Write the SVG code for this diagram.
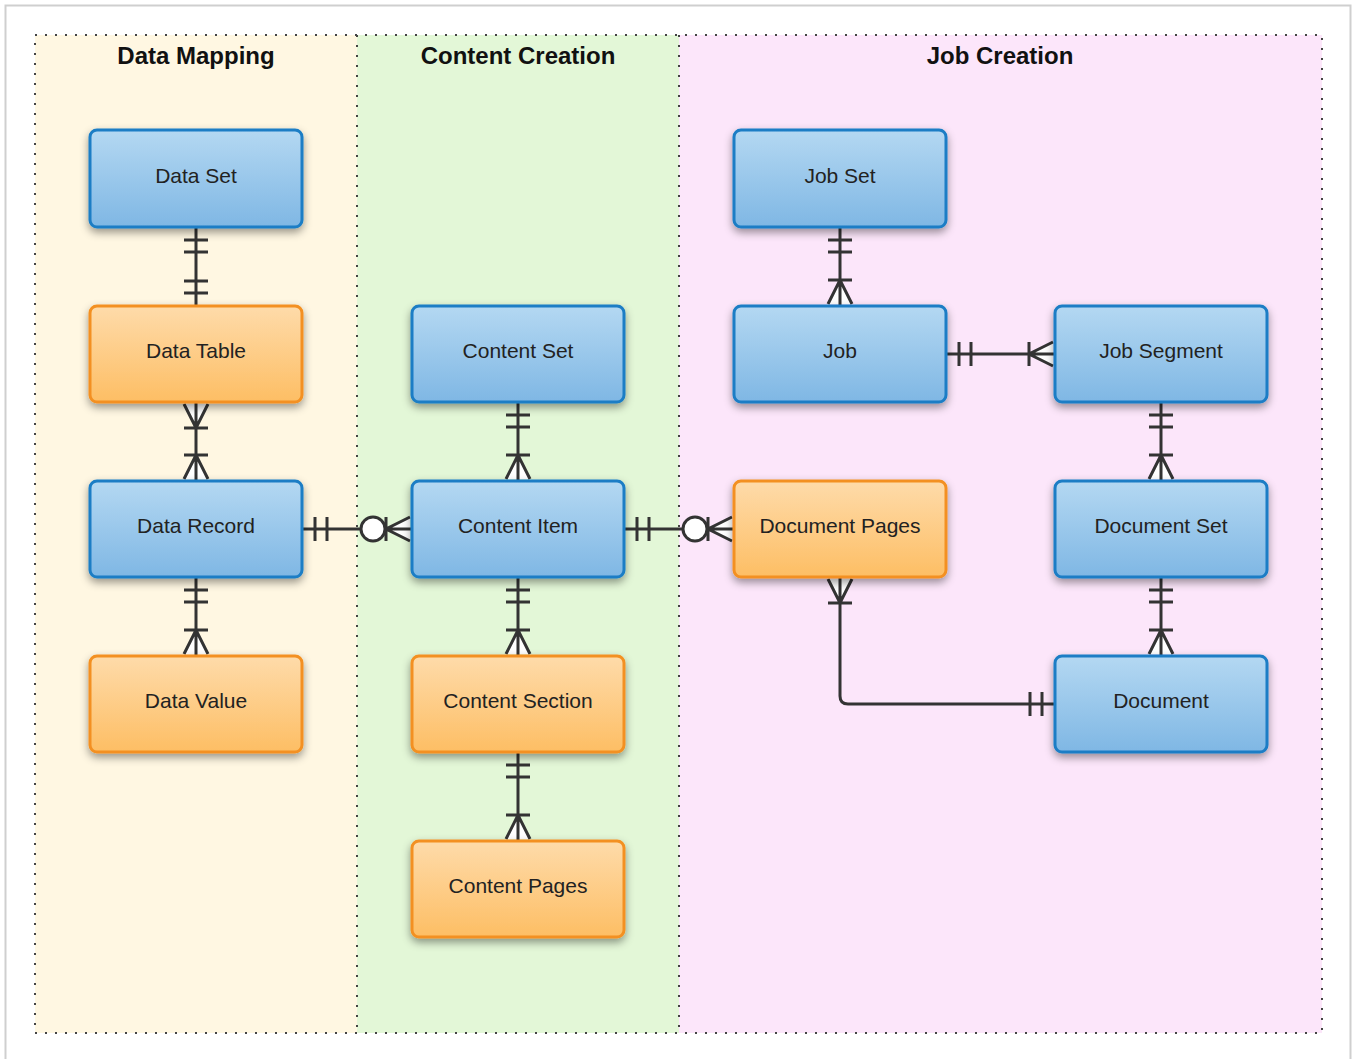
<svg xmlns="http://www.w3.org/2000/svg" xmlns:xlink="http://www.w3.org/1999/xlink" width="1354" height="1059" viewBox="0 0 1354 1059">
<style>
.title{font-family:"Liberation Sans",Arial,sans-serif;font-weight:bold;font-size:24px;fill:#111;text-anchor:middle}
.lbl{font-family:"Liberation Sans",Arial,sans-serif;font-size:21px;fill:#222;text-anchor:middle}
.blue{fill:url(#gBlue);stroke:#1a7dc5;stroke-width:3}
.orange{fill:url(#gOrange);stroke:#f39020;stroke-width:3}
.ln{fill:none;stroke:#333;stroke-width:3}
.lane{stroke:none}
.dot{fill:none;stroke:#444;stroke-width:2;stroke-dasharray:2 8}
</style>
<defs>
<linearGradient id="gBlue" x1="0" y1="0" x2="0" y2="1">
<stop offset="0" stop-color="#b4d8f2"/><stop offset="1" stop-color="#7fb7e4"/>
</linearGradient>
<linearGradient id="gOrange" x1="0" y1="0" x2="0" y2="1">
<stop offset="0" stop-color="#fedbaa"/><stop offset="1" stop-color="#fdbe64"/>
</linearGradient>
<filter id="sh" x="-10%" y="-10%" width="120%" height="135%">
<feDropShadow dx="0" dy="4" stdDeviation="4" flood-color="#000" flood-opacity="0.4"/>
</filter>
<g id="bars2">
<path class="ln" d="M-12,13 H12 M-12,25 H12"/>
</g>
<g id="crow">
<path d="M-12,2 L12,2 L0,26 Z" fill="#fff" stroke="none"/>
<path class="ln" d="M-12,2 L0,26 L12,2 M0,2 V26 M-12,26 H12"/>
</g>
</defs>

<rect x="0" y="0" width="1354" height="1059" fill="#fff"/>
<rect x="5.5" y="5.5" width="1345" height="1100" fill="#fff" stroke="#cfcfcf" stroke-width="2"/>

<g id="lanes">
<rect class="lane" x="35" y="35" width="322" height="998" fill="#fff7e2"/>
<rect class="lane" x="357" y="35" width="322" height="998" fill="#e3f7d7"/>
<rect class="lane" x="679" y="35" width="643" height="998" fill="#fce6fa"/>
<path class="dot" d="M35,35 H1322 V1033 H35 Z M357,35 V1033 M679,35 V1033"/>
<text class="title" x="196" y="64">Data Mapping</text>
<text class="title" x="518" y="64">Content Creation</text>
<text class="title" x="1000" y="64">Job Creation</text>
</g>

<g id="connectors">
<path class="ln" d="M196,227 V306"/>
<use xlink:href="#bars2" transform="translate(196,227)"/>
<use xlink:href="#bars2" transform="translate(196,306) rotate(180)"/>

<path class="ln" d="M196,402 V481"/>
<use xlink:href="#crow" transform="translate(196,402)"/>
<use xlink:href="#crow" transform="translate(196,481) rotate(180)"/>

<path class="ln" d="M196,577 V656"/>
<use xlink:href="#bars2" transform="translate(196,577)"/>
<use xlink:href="#crow" transform="translate(196,656) rotate(180)"/>

<path class="ln" d="M302,529 H412"/>
<use xlink:href="#bars2" transform="translate(302,529) rotate(-90)"/>
<use xlink:href="#crow" transform="translate(412,529) rotate(90)"/>
<circle cx="373" cy="529" r="12" fill="#fff" stroke="#333" stroke-width="3"/>

<path class="ln" d="M518,402 V481"/>
<use xlink:href="#bars2" transform="translate(518,402)"/>
<use xlink:href="#crow" transform="translate(518,481) rotate(180)"/>

<path class="ln" d="M518,577 V656"/>
<use xlink:href="#bars2" transform="translate(518,577)"/>
<use xlink:href="#crow" transform="translate(518,656) rotate(180)"/>

<path class="ln" d="M518,752 V841"/>
<use xlink:href="#bars2" transform="translate(518,752)"/>
<use xlink:href="#crow" transform="translate(518,841) rotate(180)"/>

<path class="ln" d="M624,529 H734"/>
<use xlink:href="#bars2" transform="translate(624,529) rotate(-90)"/>
<use xlink:href="#crow" transform="translate(734,529) rotate(90)"/>
<circle cx="695" cy="529" r="12" fill="#fff" stroke="#333" stroke-width="3"/>

<path class="ln" d="M840,227 V306"/>
<use xlink:href="#bars2" transform="translate(840,227)"/>
<use xlink:href="#crow" transform="translate(840,306) rotate(180)"/>

<path class="ln" d="M946,354 H1055"/>
<use xlink:href="#bars2" transform="translate(946,354) rotate(-90)"/>
<use xlink:href="#crow" transform="translate(1055,354) rotate(90)"/>

<path class="ln" d="M1161,402 V481"/>
<use xlink:href="#bars2" transform="translate(1161,402)"/>
<use xlink:href="#crow" transform="translate(1161,481) rotate(180)"/>

<path class="ln" d="M1161,577 V656"/>
<use xlink:href="#bars2" transform="translate(1161,577)"/>
<use xlink:href="#crow" transform="translate(1161,656) rotate(180)"/>

<path class="ln" d="M1055,704 H848 Q840,704 840,696 V577"/>
<use xlink:href="#bars2" transform="translate(1055,704) rotate(90)"/>
<use xlink:href="#crow" transform="translate(840,577)"/>
</g>

<g id="node-data-set"><rect class="blue" filter="url(#sh)" x="90" y="130" width="212" height="97" rx="7"/><text class="lbl" x="196" y="183">Data Set</text></g>
<g id="node-data-table"><rect class="orange" filter="url(#sh)" x="90" y="306" width="212" height="96" rx="7"/><text class="lbl" x="196" y="358">Data Table</text></g>
<g id="node-data-record"><rect class="blue" filter="url(#sh)" x="90" y="481" width="212" height="96" rx="7"/><text class="lbl" x="196" y="533">Data Record</text></g>
<g id="node-data-value"><rect class="orange" filter="url(#sh)" x="90" y="656" width="212" height="96" rx="7"/><text class="lbl" x="196" y="708">Data Value</text></g>

<g id="node-content-set"><rect class="blue" filter="url(#sh)" x="412" y="306" width="212" height="96" rx="7"/><text class="lbl" x="518" y="358">Content Set</text></g>
<g id="node-content-item"><rect class="blue" filter="url(#sh)" x="412" y="481" width="212" height="96" rx="7"/><text class="lbl" x="518" y="533">Content Item</text></g>
<g id="node-content-section"><rect class="orange" filter="url(#sh)" x="412" y="656" width="212" height="96" rx="7"/><text class="lbl" x="518" y="708">Content Section</text></g>
<g id="node-content-pages"><rect class="orange" filter="url(#sh)" x="412" y="841" width="212" height="96" rx="7"/><text class="lbl" x="518" y="893">Content Pages</text></g>

<g id="node-job-set"><rect class="blue" filter="url(#sh)" x="734" y="130" width="212" height="97" rx="7"/><text class="lbl" x="840" y="183">Job Set</text></g>
<g id="node-job"><rect class="blue" filter="url(#sh)" x="734" y="306" width="212" height="96" rx="7"/><text class="lbl" x="840" y="358">Job</text></g>
<g id="node-document-pages"><rect class="orange" filter="url(#sh)" x="734" y="481" width="212" height="96" rx="7"/><text class="lbl" x="840" y="533">Document Pages</text></g>

<g id="node-job-segment"><rect class="blue" filter="url(#sh)" x="1055" y="306" width="212" height="96" rx="7"/><text class="lbl" x="1161" y="358">Job Segment</text></g>
<g id="node-document-set"><rect class="blue" filter="url(#sh)" x="1055" y="481" width="212" height="96" rx="7"/><text class="lbl" x="1161" y="533">Document Set</text></g>
<g id="node-document"><rect class="blue" filter="url(#sh)" x="1055" y="656" width="212" height="96" rx="7"/><text class="lbl" x="1161" y="708">Document</text></g>
</svg>
